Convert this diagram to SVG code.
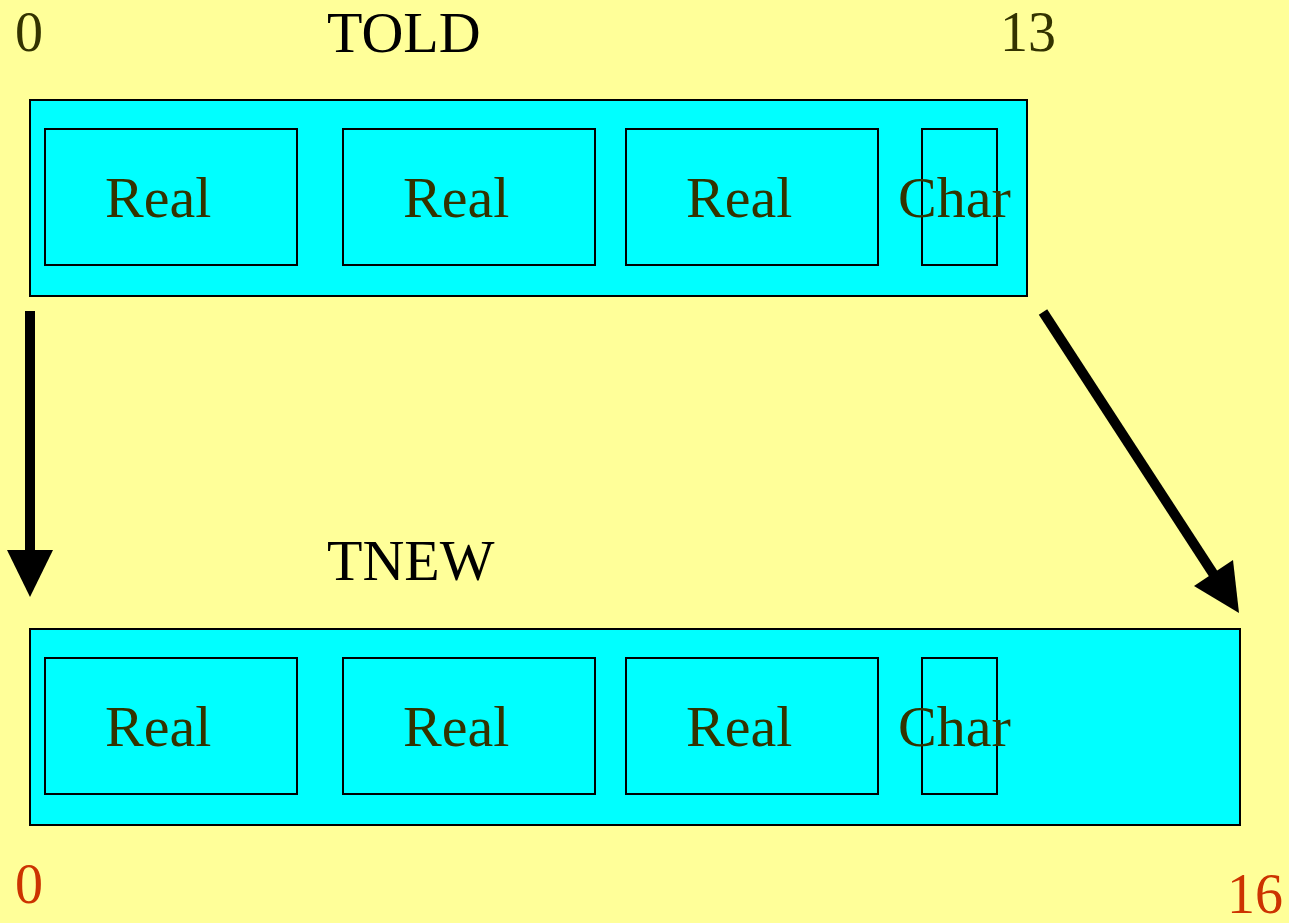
<svg xmlns="http://www.w3.org/2000/svg" width="1289" height="923" viewBox="0 0 1289 923">
  <style>
    .outer { fill: #00ffff; stroke: #000; stroke-width: 2; }
    .cell { fill: #00ffff; stroke: #000; stroke-width: 2; }
    .lbl { font-family: "Liberation Serif", serif; font-size: 58px; fill: #333300; }
    .title { font-family: "Liberation Serif", serif; font-size: 58px; fill: #000; }
    .old { font-family: "Liberation Serif", serif; font-size: 56px; fill: #333300; }
    .new { font-family: "Liberation Serif", serif; font-size: 56px; fill: #cc3300; }
    .shaft { stroke: #000; stroke-width: 10; fill: none; }
    .head { fill: #000; }
  </style>
  <rect width="1289" height="923" fill="#ffff99"/>

  <!-- offsets and titles -->
  <text class="old" x="15" y="51">0</text>
  <text class="title" x="327" y="52">TOLD</text>
  <text class="old" x="1000" y="51">13</text>
  <text class="title" x="327" y="580">TNEW</text>
  <text class="new" x="15" y="903">0</text>
  <text class="new" x="1227" y="913">16</text>

  <!-- old record layout -->
  <g id="told">
    <rect class="outer" x="30" y="100" width="997" height="196"/>
    <g id="told-real1"><rect class="cell" x="45" y="129" width="252" height="136"/><text class="lbl" x="105" y="217">Real</text></g>
    <g id="told-real2"><rect class="cell" x="343" y="129" width="252" height="136"/><text class="lbl" x="403" y="217">Real</text></g>
    <g id="told-real3"><rect class="cell" x="626" y="129" width="252" height="136"/><text class="lbl" x="686" y="217">Real</text></g>
    <g id="told-char"><rect class="cell" x="922" y="129" width="75" height="136"/><text class="lbl" x="898" y="217">Char</text></g>
  </g>

  <!-- new record layout -->
  <g id="tnew">
    <rect class="outer" x="30" y="629" width="1210" height="196"/>
    <g id="tnew-real1"><rect class="cell" x="45" y="658" width="252" height="136"/><text class="lbl" x="105" y="746">Real</text></g>
    <g id="tnew-real2"><rect class="cell" x="343" y="658" width="252" height="136"/><text class="lbl" x="403" y="746">Real</text></g>
    <g id="tnew-real3"><rect class="cell" x="626" y="658" width="252" height="136"/><text class="lbl" x="686" y="746">Real</text></g>
    <g id="tnew-char"><rect class="cell" x="922" y="658" width="75" height="136"/><text class="lbl" x="898" y="746">Char</text></g>
  </g>

  <!-- mapping arrows -->
  <g id="connectors">
    <line class="shaft" x1="30" y1="311" x2="30" y2="552"/>
    <polygon class="head" points="7,550 53,550 30,597"/>
    <line class="shaft" x1="1043" y1="312" x2="1216" y2="578"/>
    <polygon class="head" points="1194,586 1233,560 1239,613"/>
  </g>
</svg>
